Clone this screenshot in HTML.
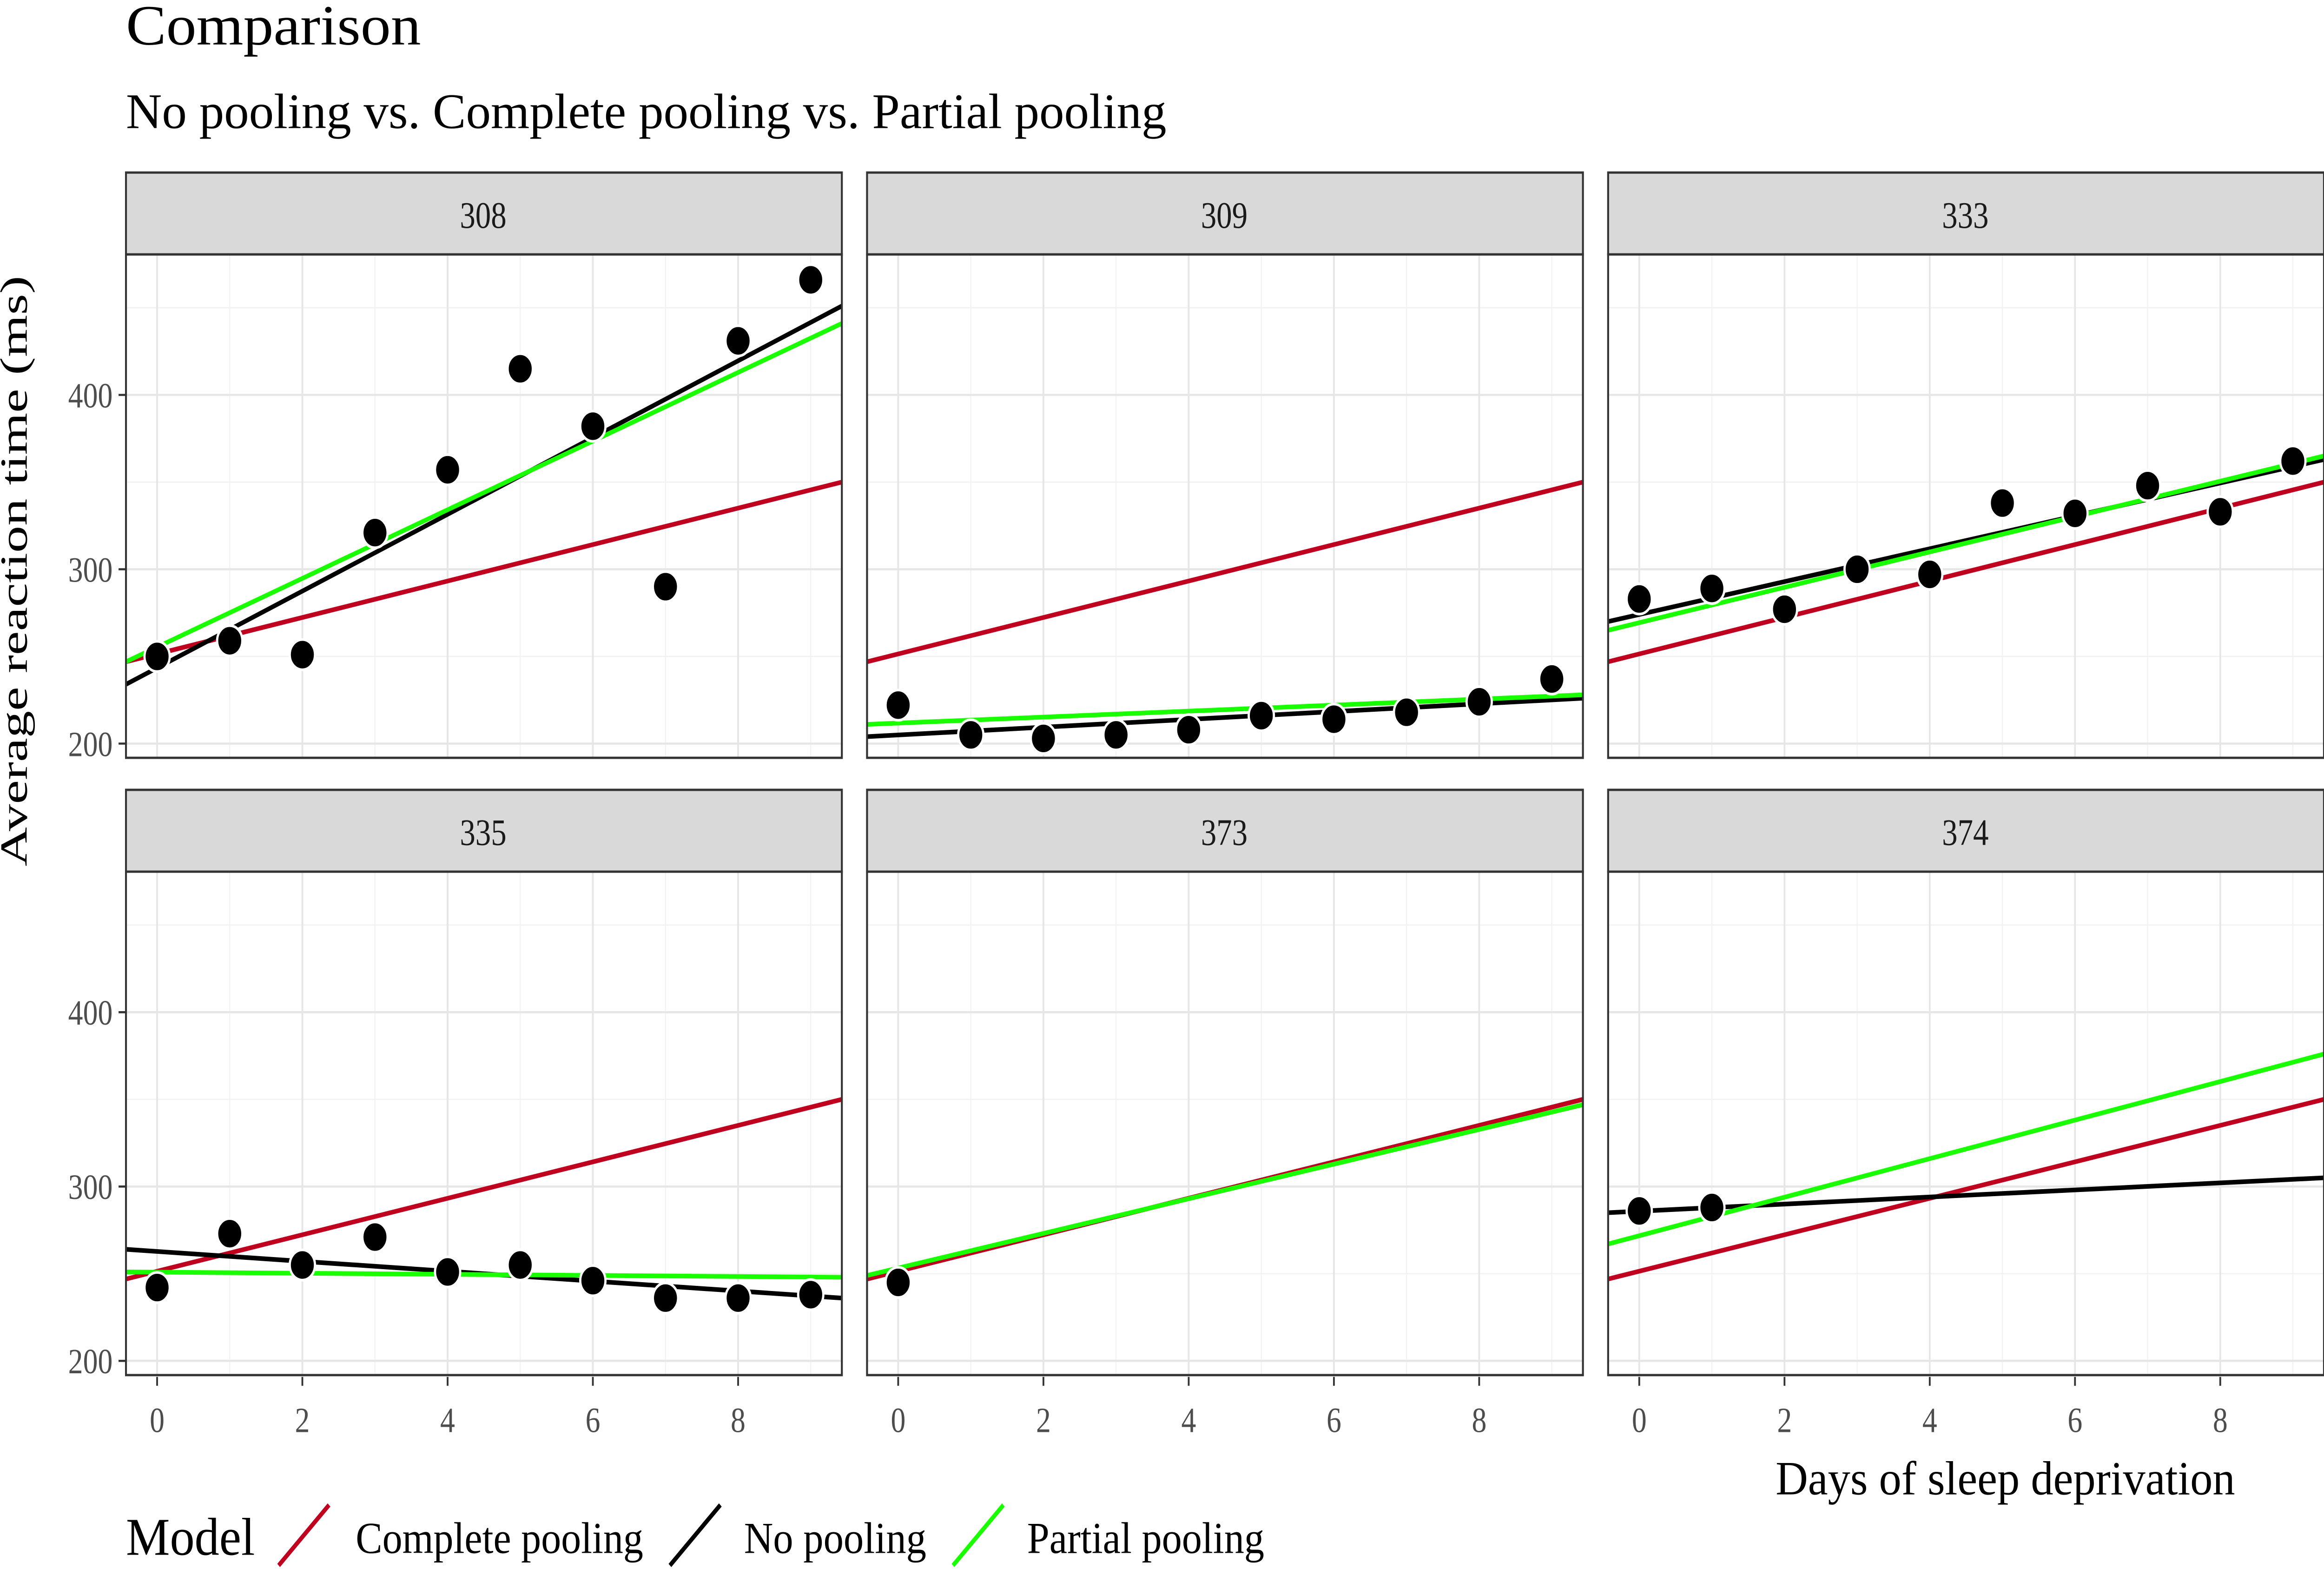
<!DOCTYPE html>
<html><head><meta charset="utf-8"><style>html,body{margin:0;padding:0;background:#fff;width:100%;height:100%;overflow:hidden}svg{display:block;width:100vw;height:100vh}</style></head>
<body>
<svg viewBox="0 0 1568 882" preserveAspectRatio="none" xmlns="http://www.w3.org/2000/svg" font-family="'Liberation Serif',serif">
<defs>
<clipPath id="c"><rect x="85" y="143" width="483" height="283"/></clipPath>
<g id="grid">
<rect x="85" y="143" width="483" height="283" fill="#fff"/>
<g stroke="#f2f2f2" stroke-width="0.7">
<line x1="85" x2="568" y1="369" y2="369"/><line x1="85" x2="568" y1="271" y2="271"/><line x1="85" x2="568" y1="173" y2="173"/>
<line y1="143" y2="426" x1="155" x2="155"/><line y1="143" y2="426" x1="253" x2="253"/><line y1="143" y2="426" x1="351" x2="351"/><line y1="143" y2="426" x1="449" x2="449"/><line y1="143" y2="426" x1="547" x2="547"/>
</g>
<g stroke="#e6e6e6" stroke-width="1.2">
<line x1="85" x2="568" y1="418" y2="418"/><line x1="85" x2="568" y1="320" y2="320"/><line x1="85" x2="568" y1="222" y2="222"/>
<line y1="143" y2="426" x1="106" x2="106"/><line y1="143" y2="426" x1="204" x2="204"/><line y1="143" y2="426" x1="302" x2="302"/><line y1="143" y2="426" x1="400" x2="400"/><line y1="143" y2="426" x1="498" x2="498"/>
</g>
</g>
<g id="frame">
<rect x="85" y="143" width="483" height="283" fill="none" stroke="#333" stroke-width="1.3"/>
<rect x="85" y="97" width="483" height="46" fill="#d9d9d9" stroke="#333" stroke-width="1.3"/>
</g>
<line id="red" x1="85" y1="372" x2="568" y2="271" stroke="#c0001f" stroke-width="2.6"/>
</defs>

<text x="85" y="25" font-size="32" fill="#000" textLength="199" lengthAdjust="spacingAndGlyphs">Comparison</text>
<text x="85" y="72" font-size="28" fill="#000" textLength="702" lengthAdjust="spacingAndGlyphs">No pooling vs. Complete pooling vs. Partial pooling</text>

<g>
<use href="#grid"/>
<g clip-path="url(#c)">
<use href="#red"/>
<line x1="85" y1="384.7" x2="568" y2="172" stroke="#000" stroke-width="2.6"/>
<line x1="85" y1="372" x2="568" y2="181.8" stroke="#1aff00" stroke-width="2.6"/>
<g fill="#000" stroke="#fff" stroke-width="1.5">
<circle cx="106" cy="369" r="8.5"/><circle cx="155" cy="360.2" r="8.5"/><circle cx="204" cy="368" r="8.5"/><circle cx="253" cy="299.4" r="8.5"/><circle cx="302" cy="264.1" r="8.5"/><circle cx="351" cy="207.3" r="8.5"/><circle cx="400" cy="239.6" r="8.5"/><circle cx="449" cy="329.8" r="8.5"/><circle cx="498" cy="191.6" r="8.5"/><circle cx="547" cy="157.3" r="8.5"/>
</g></g>
<use href="#frame"/>
<text x="326" y="128" font-size="21" text-anchor="middle" fill="#1a1a1a">308</text>
</g>

<g transform="translate(500,0)">
<use href="#grid"/>
<g clip-path="url(#c)">
<use href="#red"/>
<line x1="85" y1="414.1" x2="568" y2="392.5" stroke="#000" stroke-width="2.6"/>
<line x1="85" y1="407.2" x2="568" y2="390.6" stroke="#1aff00" stroke-width="2.6"/>
<g fill="#000" stroke="#fff" stroke-width="1.5">
<circle cx="106" cy="396.4" r="8.5"/><circle cx="155" cy="413.1" r="8.5"/><circle cx="204" cy="415.1" r="8.5"/><circle cx="253" cy="413.1" r="8.5"/><circle cx="302" cy="410.2" r="8.5"/><circle cx="351" cy="402.3" r="8.5"/><circle cx="400" cy="404.3" r="8.5"/><circle cx="449" cy="400.4" r="8.5"/><circle cx="498" cy="394.5" r="8.5"/><circle cx="547" cy="381.7" r="8.5"/>
</g></g>
<use href="#frame"/>
<text x="326" y="128" font-size="21" text-anchor="middle" fill="#1a1a1a">309</text>
</g>

<g transform="translate(1000,0)">
<use href="#grid"/>
<g clip-path="url(#c)">
<use href="#red"/>
<line x1="85" y1="349.4" x2="568" y2="258.3" stroke="#000" stroke-width="2.6"/>
<line x1="85" y1="354.3" x2="568" y2="256.3" stroke="#1aff00" stroke-width="2.6"/>
<g fill="#000" stroke="#fff" stroke-width="1.5">
<circle cx="106" cy="336.7" r="8.5"/><circle cx="155" cy="330.8" r="8.5"/><circle cx="204" cy="342.5" r="8.5"/><circle cx="253" cy="320" r="8.5"/><circle cx="302" cy="322.9" r="8.5"/><circle cx="351" cy="282.8" r="8.5"/><circle cx="400" cy="288.6" r="8.5"/><circle cx="449" cy="273" r="8.5"/><circle cx="498" cy="287.7" r="8.5"/><circle cx="547" cy="259.2" r="8.5"/>
</g></g>
<use href="#frame"/>
<text x="326" y="128" font-size="21" text-anchor="middle" fill="#1a1a1a">333</text>
</g>

<g transform="translate(0,347)">
<use href="#grid"/>
<g clip-path="url(#c)">
<use href="#red"/>
<line x1="85" y1="355.3" x2="568" y2="382.7" stroke="#000" stroke-width="2.6"/>
<line x1="85" y1="368" x2="568" y2="371" stroke="#1aff00" stroke-width="2.6"/>
<g fill="#000" stroke="#fff" stroke-width="1.5">
<circle cx="106" cy="376.8" r="8.5"/><circle cx="155" cy="346.5" r="8.5"/><circle cx="204" cy="364.1" r="8.5"/><circle cx="253" cy="348.4" r="8.5"/><circle cx="302" cy="368" r="8.5"/><circle cx="351" cy="364.1" r="8.5"/><circle cx="400" cy="372.9" r="8.5"/><circle cx="449" cy="382.7" r="8.5"/><circle cx="498" cy="382.7" r="8.5"/><circle cx="547" cy="380.8" r="8.5"/>
</g></g>
<use href="#frame"/>
<text x="326" y="128" font-size="21" text-anchor="middle" fill="#1a1a1a">335</text>
</g>

<g transform="translate(500,347)">
<use href="#grid"/>
<g clip-path="url(#c)">
<line x1="85" y1="372" x2="568" y2="271" stroke="#000" stroke-width="2.6"/>
<use href="#red"/>
<line x1="85" y1="370" x2="568" y2="274" stroke="#1aff00" stroke-width="2.6"/>
<g fill="#000" stroke="#fff" stroke-width="1.5">
<circle cx="106" cy="373.9" r="8.5"/>
</g></g>
<use href="#frame"/>
<text x="326" y="128" font-size="21" text-anchor="middle" fill="#1a1a1a">373</text>
</g>

<g transform="translate(1000,347)">
<use href="#grid"/>
<g clip-path="url(#c)">
<use href="#red"/>
<line x1="85" y1="334.7" x2="568" y2="315.1" stroke="#000" stroke-width="2.6"/>
<line x1="85" y1="352.3" x2="568" y2="245.5" stroke="#1aff00" stroke-width="2.6"/>
<g fill="#000" stroke="#fff" stroke-width="1.5">
<circle cx="106" cy="333.7" r="8.5"/><circle cx="155" cy="331.8" r="8.5"/>
</g></g>
<use href="#frame"/>
<text x="326" y="128" font-size="21" text-anchor="middle" fill="#1a1a1a">374</text>
</g>

<g stroke="#333" stroke-width="1.2">
<line x1="80" x2="85" y1="418" y2="418"/><line x1="80" x2="85" y1="320" y2="320"/><line x1="80" x2="85" y1="222" y2="222"/>
<line x1="80" x2="85" y1="765" y2="765"/><line x1="80" x2="85" y1="667" y2="667"/><line x1="80" x2="85" y1="569" y2="569"/>
</g>
<g font-size="20" fill="#4d4d4d" text-anchor="end">
<text x="76" y="425">200</text><text x="76" y="327">300</text><text x="76" y="229">400</text>
<text x="76" y="772">200</text><text x="76" y="674">300</text><text x="76" y="576">400</text>
</g>

<g stroke="#333" stroke-width="1.2">
<line x1="106" x2="106" y1="774" y2="779"/><line x1="204" x2="204" y1="774" y2="779"/><line x1="302" x2="302" y1="774" y2="779"/><line x1="400" x2="400" y1="774" y2="779"/><line x1="498" x2="498" y1="774" y2="779"/>
<line x1="606" x2="606" y1="774" y2="779"/><line x1="704" x2="704" y1="774" y2="779"/><line x1="802" x2="802" y1="774" y2="779"/><line x1="900" x2="900" y1="774" y2="779"/><line x1="998" x2="998" y1="774" y2="779"/>
<line x1="1106" x2="1106" y1="774" y2="779"/><line x1="1204" x2="1204" y1="774" y2="779"/><line x1="1302" x2="1302" y1="774" y2="779"/><line x1="1400" x2="1400" y1="774" y2="779"/><line x1="1498" x2="1498" y1="774" y2="779"/>
</g>
<g font-size="20" fill="#4d4d4d" text-anchor="middle">
<text x="106" y="805">0</text><text x="204" y="805">2</text><text x="302" y="805">4</text><text x="400" y="805">6</text><text x="498" y="805">8</text>
<text x="606" y="805">0</text><text x="704" y="805">2</text><text x="802" y="805">4</text><text x="900" y="805">6</text><text x="998" y="805">8</text>
<text x="1106" y="805">0</text><text x="1204" y="805">2</text><text x="1302" y="805">4</text><text x="1400" y="805">6</text><text x="1498" y="805">8</text>
</g>

<text x="1198" y="840" font-size="27" fill="#000" textLength="310" lengthAdjust="spacingAndGlyphs">Days of sleep deprivation</text>
<text transform="translate(18,487) rotate(-90)" font-size="26" fill="#000" textLength="332" lengthAdjust="spacingAndGlyphs">Average reaction time (ms)</text>

<text x="85" y="874" font-size="30" fill="#000" textLength="87" lengthAdjust="spacingAndGlyphs">Model</text>
<line x1="188" y1="880" x2="222" y2="846" stroke="#c0001f" stroke-width="2.6"/>
<text x="240" y="873" font-size="25" fill="#000" textLength="194" lengthAdjust="spacingAndGlyphs">Complete pooling</text>
<line x1="452" y1="880" x2="486" y2="846" stroke="#000" stroke-width="2.6"/>
<text x="502" y="873" font-size="25" fill="#000" textLength="123" lengthAdjust="spacingAndGlyphs">No pooling</text>
<line x1="643" y1="880" x2="677" y2="846" stroke="#1aff00" stroke-width="2.6"/>
<text x="693" y="873" font-size="25" fill="#000" textLength="160" lengthAdjust="spacingAndGlyphs">Partial pooling</text>
</svg>
</body></html>
